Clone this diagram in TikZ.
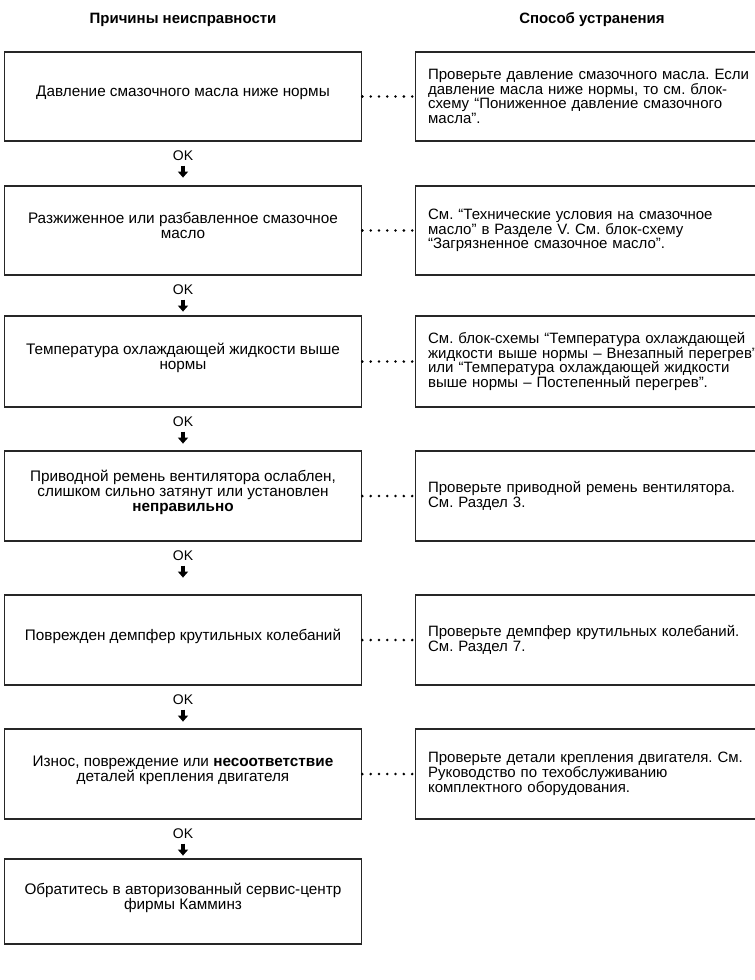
\documentclass[tikz,border=0pt]{standalone}
\usepackage{fontspec}
\setmainfont{Liberation Sans}
\usetikzlibrary{arrows.meta,calc}
\frenchspacing

\begin{document}
\begin{tikzpicture}[x=1pt, y=-1pt, font=\fontsize{15.3}{15}\selectfont,
  cause/.style={draw=black!85, line width=1.2pt, minimum width=357.5pt, align=center, inner sep=0pt,
    execute at end node={\rule[-10pt]{0pt}{0pt}}},
  remedy/.style={draw=black!85, line width=1.2pt, anchor=west, text width=400pt, align=left, inner xsep=13pt, inner ysep=0pt,
    font=\fontsize{15}{14.8}\selectfont},
  header/.style={font=\fontsize{15}{16}\selectfont\bfseries},
  oklabel/.style={font=\fontsize{14}{14}\selectfont, inner sep=0pt},
  okarrow/.style={line width=3.2pt, -{Triangle[width=10pt,length=6pt]}},
  dots/.style={line width=2.8pt, line cap=round, dash pattern=on 0pt off 8.3pt}]
\useasboundingbox (0,0) rectangle (755,980);
\clip (0,0) rectangle (755,980);
%%%%% Headers %%%%%
\node[header] (hcause) at (183,20) {Причины неисправности};
\node[header] (hremedy) at (592,20) {Способ устранения};
%%%%% Causes %%%%%
\node[cause, minimum height=89pt] (c1) at (183,96.5) {Давление смазочного масла ниже нормы};
\node[cause, minimum height=89pt] (c2) at (183,230.5) {Разжиженное или разбавленное смазочное\\масло};
\node[cause, minimum height=91pt] (c3) at (183,361.5) {Температура охлаждающей жидкости выше\\нормы};
\node[cause, minimum height=90pt] (c4) at (183,496) {Приводной ремень вентилятора ослаблен,\\слишком сильно затянут или установлен\\\textbf{неправильно}};
\node[cause, minimum height=90pt] (c5) at (183,640) {Поврежден демпфер крутильных колебаний};
\node[cause, minimum height=90pt] (c6) at (183,774) {Износ, повреждение или \textbf{несоответствие}\\деталей крепления двигателя};
\node[cause, minimum height=85pt] (c7) at (183,901.5) {Обратитесь в авторизованный сервис-центр\\фирмы Камминз};
%%%%% Remedies %%%%%
\node[remedy, minimum height=89pt] (r1) at (414.5,96.5) {Проверьте давление смазочного масла. Если\\давление масла ниже нормы, то см. блок-\\схему “Пониженное давление смазочного\\масла”.};
\node[remedy, minimum height=89pt] (r2) at (414.5,230.5) {См. “Технические условия на смазочное\\масло” в Разделе V. См. блок-схему\\“Загрязненное смазочное масло”.};
\node[remedy, minimum height=91pt] (r3) at (414.5,361.5) {См. блок-схемы “Температура охлаждающей\\жидкости выше нормы – Внезапный перегрев”\\или “Температура охлаждающей жидкости\\выше нормы – Постепенный перегрев”.};
\node[remedy, minimum height=90pt] (r4) at (414.5,496) {Проверьте приводной ремень вентилятора.\\См. Раздел 3.};
\node[remedy, minimum height=90pt] (r5) at (414.5,640) {Проверьте демпфер крутильных колебаний.\\См. Раздел 7.};
\node[remedy, minimum height=90pt] (r6) at (414.5,774) {Проверьте детали крепления двигателя. См.\\Руководство по техобслуживанию\\комплектного оборудования.};
%%%%% Links %%%%%
\foreach \i in {1,...,6}{
\draw[dots] (c\i.east) -- (r\i.west);
\node[oklabel] (ok\i) at ($(c\i.south)+(0,14)$) {OK};
\draw[okarrow] ($(ok\i)+(0,10)$) -- ($(ok\i)+(0,22)$);
}
\end{tikzpicture}
\end{document}
